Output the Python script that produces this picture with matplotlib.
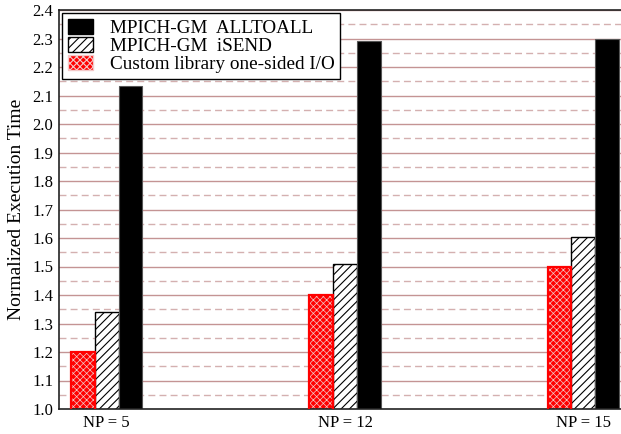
import matplotlib
matplotlib.use('Agg')
import matplotlib.pyplot as plt
from matplotlib.patches import Patch
import numpy as np

plt.rcParams['font.family'] = ['Liberation Serif', 'DejaVu Serif']
plt.rcParams['hatch.linewidth'] = 0.8

groups = ['NP = 5', 'NP = 12', 'NP = 15']
custom_io = [1.20, 1.40, 1.50]
isend = [1.34, 1.51, 1.605]
alltoall = [2.135, 2.29, 2.30]

x = np.arange(len(groups))
w = 0.1

fig = plt.figure(figsize=(6.21, 4.34), dpi=100)
ax = fig.add_axes([59/621, 25/434, 572/621, 399/434])

# grid: solid at every 0.1, dashed halfway
for v in np.arange(1.1, 2.41, 0.1):
    ax.axhline(v, color='#c49494', lw=1.0, zorder=0)
for v in np.arange(1.05, 2.4, 0.1):
    ax.axhline(v, color='#d4b0b0', lw=1.0, ls=(0, (5, 3)), zorder=0)

# custom library: red checker look
red = ax.bar(x - w, custom_io, w, facecolor='red', edgecolor='#f4c8c8',
             hatch='xxxxx', linewidth=0, zorder=2)
for p in red:
    if hasattr(p, 'set_hatch_linewidth'):
        p.set_hatch_linewidth(0.5)
ax.bar(x - w, custom_io, w, fill=False, edgecolor='red', linewidth=1.6, zorder=3)
ax.bar(x, isend, w, facecolor='white', edgecolor='black', hatch='////',
       linewidth=1.0, zorder=2)
ax.bar(x + w, alltoall, w, facecolor='black', edgecolor='#555555',
       linewidth=0.8, zorder=2)

ax.set_xlim(-0.2, 2.2)
ax.set_ylim(1.0, 2.4)
ax.set_yticks(np.arange(1.0, 2.41, 0.1))
ax.set_yticklabels([f'{v:.1f}' for v in np.arange(1.0, 2.41, 0.1)])
ax.set_xticks(x)
ax.set_xticklabels(groups)
ax.tick_params(axis='both', length=0, labelsize=12, pad=4)
ax.set_ylabel('Normalized Execution Time', fontsize=14, labelpad=5)
for s in ax.spines.values():
    s.set_linewidth(1.2)
    s.set_color('#222222')

leg_red = Patch(facecolor='red', edgecolor='#f4c8c8', hatch='xxxxx',
                label='Custom library one-sided I/O')
if hasattr(leg_red, 'set_hatch_linewidth'):
    leg_red.set_hatch_linewidth(0.5)
handles = [
    Patch(facecolor='black', edgecolor='black', label='MPICH-GM  ALLTOALL'),
    Patch(facecolor='white', edgecolor='black', hatch='////', label='MPICH-GM  iSEND'),
    leg_red,
]
leg = ax.legend(handles=handles, loc='upper left', fontsize=13.8, fancybox=False,
                framealpha=1, edgecolor='black', borderaxespad=0.15,
                handlelength=1.3, handleheight=0.85, labelspacing=0.0,
                borderpad=0.3, handletextpad=0.9)
leg.get_frame().set_linewidth(1.0)
leg.set_zorder(5)

fig.savefig('out.png', dpi=100)
